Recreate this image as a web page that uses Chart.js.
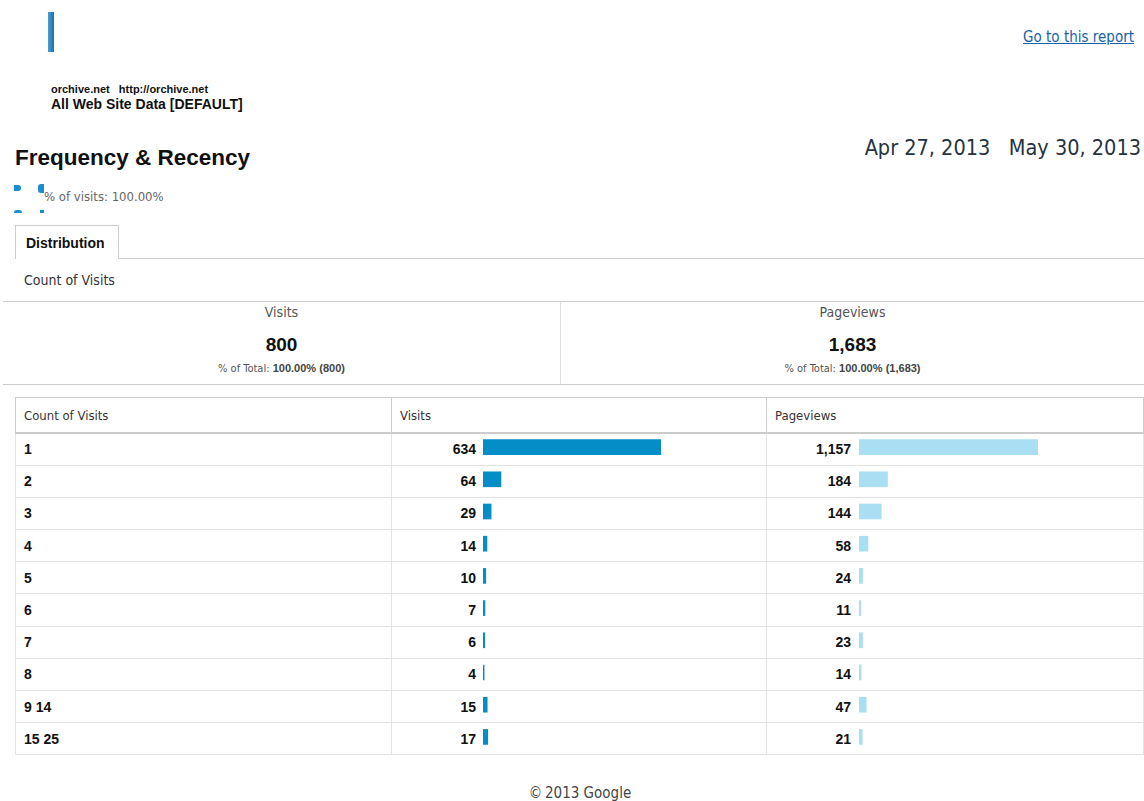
<!DOCTYPE html>
<html>
<head>
<meta charset="utf-8">
<script src="https://cdn.jsdelivr.net/npm/chart.js@4"></script>
<style>
  body { margin: 0; width: 1144px; height: 801px; position: relative; background: #fff; font-family: "Liberation Sans", Arial, sans-serif; overflow: hidden; }
  .abs { position: absolute; }
  .thin { font-family: "DejaVu Sans Condensed", "DejaVu Sans", sans-serif; color: #333; }
  #logo { left: 48px; top: 12px; width: 6px; height: 40px; background: linear-gradient(90deg, #4b9fd3, #1d6fae); }
  #site { left: 51px; top: 83px; font-size: 11px; font-weight: bold; color: #111; }
  #profile { left: 51px; top: 96px; font-size: 14px; font-weight: bold; color: #111; }
  #goto { right: 10px; top: 28px; font-size: 15px; color: #1a62a8; text-decoration: underline; font-family: "DejaVu Sans Condensed", "DejaVu Sans", sans-serif; }
  #dates { right: 3px; top: 135px; font-size: 21.5px; color: #263340; font-family: "DejaVu Sans Condensed", "DejaVu Sans", sans-serif; white-space: pre; }
  #title { left: 15px; top: 145px; font-size: 22.5px; font-weight: bold; color: #111; }
  #seg { left: 44px; top: 189px; font-size: 13px; color: #666; }
  .ico { background: #1a8ed0; }
  #tab { left: 15px; top: 225px; height: 34px; border: 1px solid #ccc; border-bottom: none; background: #fff; font-size: 14px; font-weight: bold; color: #111; line-height: 34px; text-indent: 10px; box-sizing: border-box; width: 104px; }
  #tabline { left: 15px; right: 0; top: 258px; height: 1px; background: #ccc; }
  #cov { left: 24px; top: 272px; font-size: 14px; }
  #summary { left: 3px; right: 0; top: 301px; height: 82px; border-top: 1px solid #ccc; border-bottom: 1px solid #ccc; }
  .scol { position: absolute; top: 0; height: 82px; text-align: center; }
  .scol .h { margin-top: 2px; font-size: 14px; color: #555; }
  .scol .v { margin-top: 14px; font-size: 19px; font-weight: bold; color: #111; font-family: "Liberation Sans", Arial, sans-serif; }
  .scol .p { margin-top: 6px; font-size: 11px; color: #555; }
  .scol .p b { font-family: "Liberation Sans", Arial, sans-serif; font-size: 11px; color: #444; }
  table { position: absolute; left: 15px; top: 397px; width: 1129px; border-collapse: collapse; }
  th { height: 34px; border: 1px solid #ccc; border-bottom: 2px solid #ccc; text-align: left; font-weight: normal; font-size: 13px; padding: 0 8px; }
  tbody tr { height: 32.2px; }
  td { border: 1px solid #e3e3e3; font-size: 14px; font-weight: bold; color: #111; padding: 0 8px; }
  td.num { padding: 0; }
  td.num span { display: inline-block; width: 84px; text-align: right; }
  canvas { position: absolute; }
  #foot { left: 0; width: 1160px; top: 784px; text-align: center; font-size: 15px; color: #444; }
</style>
</head>
<body>
<script>
const categories = ['1', '2', '3', '4', '5', '6', '7', '8', '9 14', '15 25'];
const visits = [634, 64, 29, 14, 10, 7, 6, 4, 15, 17];
const pageviews = [1157, 184, 144, 58, 24, 11, 23, 14, 47, 21];
const totalVisits = 800;
const totalPageviews = 1683;
const dateRange = ['Apr 27, 2013', 'May 30, 2013'];
</script>

<div class="abs" id="logo"></div>
<div class="abs" id="site">orchive.net&nbsp;&nbsp;&nbsp;http://orchive.net</div>
<div class="abs" id="profile">All Web Site Data [DEFAULT]</div>
<div class="abs" id="goto">Go to this report</div>
<div class="abs" id="dates"></div>
<div class="abs" id="title">Frequency &amp; Recency</div>
<div class="abs ico" style="left:14px;top:185px;width:7px;height:6px;border-radius:0 3px 3px 0"></div>
<div class="abs ico" style="left:38px;top:184px;width:6px;height:9px;border-radius:3px 0 0 3px"></div>
<div class="abs ico" style="left:14px;top:210px;width:8px;height:3px;border-radius:3px 3px 0 0"></div>
<div class="abs ico" style="left:40px;top:210px;width:4px;height:3px"></div>
<div class="abs thin" id="seg">% of visits: 100.00%</div>
<div class="abs" id="tabline"></div>
<div class="abs" id="tab">Distribution</div>
<div class="abs thin" id="cov">Count of Visits</div>
<div class="abs" id="summary">
  <div class="scol thin" style="left:0;width:557px;border-right:1px solid #ddd">
    <div class="h">Visits</div><div class="v" id="sv"></div><div class="p" id="svp"></div>
  </div>
  <div class="scol thin" style="left:558px;width:583px">
    <div class="h">Pageviews</div><div class="v" id="sp"></div><div class="p" id="spp"></div>
  </div>
</div>

<table>
  <thead><tr>
    <th class="thin" style="width:359px">Count of Visits</th>
    <th class="thin" style="width:358px">Visits</th>
    <th class="thin">Pageviews</th>
  </tr></thead>
  <tbody id="rows"></tbody>
</table>

<canvas id="cv" width="190" height="322" style="left:483px;top:431px;width:190px;height:322px"></canvas>
<canvas id="cp" width="190" height="322" style="left:859px;top:431px;width:190px;height:322px"></canvas>

<div class="abs thin" id="foot">&copy;&thinsp;2013 Google</div>

<script>
const fmt = (n) => n.toLocaleString('en-US');

document.getElementById('dates').textContent = dateRange.join('   ');
document.getElementById('sv').textContent = fmt(totalVisits);
document.getElementById('sp').textContent = fmt(totalPageviews);
document.getElementById('svp').innerHTML = '% of Total: <b>100.00%</b> <b>(' + fmt(totalVisits) + ')</b>';
document.getElementById('spp').innerHTML = '% of Total: <b>100.00%</b> <b>(' + fmt(totalPageviews) + ')</b>';

const tbody = document.getElementById('rows');
categories.forEach((c, i) => {
    const tr = document.createElement('tr');
    tr.innerHTML = '<td>' + c + '</td>' +
        '<td class="num"><span>' + fmt(visits[i]) + '</span></td>' +
        '<td class="num"><span>' + fmt(pageviews[i]) + '</span></td>';
    tbody.appendChild(tr);
});

// one small horizontal bar chart per metric column, lined up with the table rows
function barColumn(id, values, color, fullWidth) {
    const maxVal = Math.max(...values);
    new Chart(document.getElementById(id), {
        type: 'bar',
        data: {
            labels: categories,
            datasets: [{
                data: values,
                backgroundColor: color,
                borderWidth: 0,
                barThickness: 15,
                minBarLength: 1,
            }],
        },
        options: {
            indexAxis: 'y',
            responsive: false,
            animation: false,
            layout: { padding: { left: 0, right: 190 - fullWidth, top: 0, bottom: 0 } },
            plugins: { legend: { display: false }, tooltip: { enabled: false } },
            scales: {
                x: { display: false, min: 0, max: maxVal },
                y: { display: false },
            },
        },
    });
}

barColumn('cv', visits, '#058dc7', 178);
barColumn('cp', pageviews, '#aadff3', 179);
</script>
</body>
</html>
